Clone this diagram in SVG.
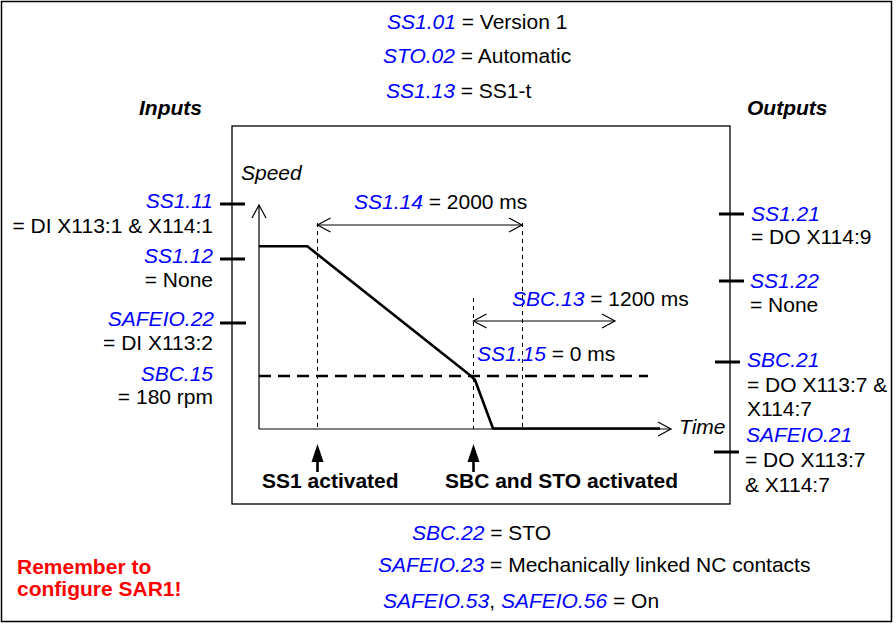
<svg xmlns="http://www.w3.org/2000/svg" width="896" height="624" viewBox="0 0 896 624">
<style>
text{font-family:"Liberation Sans",Arial,sans-serif;font-size:21px;fill:#000}
.p{fill:#0000ff;font-style:italic}
.it{font-style:italic}
.bi{font-weight:bold;font-style:italic}
.b{font-weight:bold}
.red{fill:#ff0000;font-weight:bold}
.e{text-anchor:end}
.tick{stroke:#000;stroke-width:3}
.thin{stroke:#000;stroke-width:1.2;fill:none}
.dash{stroke:#000;stroke-width:1;stroke-dasharray:4 4;fill:none}
.prof{stroke:#000;stroke-width:2.6;fill:none;stroke-linejoin:round}
</style>
<defs>
<marker id="open" viewBox="-14 -8 16 16" refX="0" refY="0" markerWidth="16" markerHeight="16" markerUnits="userSpaceOnUse" orient="auto-start-reverse">
<path d="M-13,-7 L0,0 L-13,7" fill="none" stroke="#000" stroke-width="1.2"/>
</marker>
</defs>
<rect x="1.5" y="1.5" width="890" height="620" fill="#fff" stroke="#000" stroke-width="1.5"/>
<g id="params-top">
<text x="387" y="29"><tspan class="p">SS1.01</tspan> = Version 1</text>
<text x="383" y="63"><tspan class="p">STO.02</tspan> = Automatic</text>
<text x="386" y="98"><tspan class="p">SS1.13</tspan> = SS1-t</text>
</g>
<g id="inputs">
<text x="139" y="115" class="bi">Inputs</text>
<line class="tick" x1="220" y1="204" x2="245" y2="204"/>
<text x="213" y="208" class="p e">SS1.11</text>
<text x="213" y="233" class="e">= DI X113:1 &amp; X114:1</text>
<line class="tick" x1="220" y1="259" x2="245" y2="259"/>
<text x="213" y="263" class="p e">SS1.12</text>
<text x="213" y="287" class="e">= None</text>
<line class="tick" x1="220" y1="323" x2="246" y2="323"/>
<text x="214" y="326" class="p e">SAFEIO.22</text>
<text x="213" y="350" class="e">= DI X113:2</text>
<text x="213" y="381" class="p e">SBC.15</text>
<text x="213" y="404" class="e">= 180 rpm</text>
</g>
<g id="outputs">
<text x="747" y="115" class="bi">Outputs</text>
<line class="tick" x1="719" y1="214" x2="744" y2="214"/>
<text x="751" y="221" class="p">SS1.21</text>
<text x="751" y="244">= DO X114:9</text>
<line class="tick" x1="719" y1="281" x2="744" y2="281"/>
<text x="750" y="288" class="p">SS1.22</text>
<text x="750" y="312">= None</text>
<line class="tick" x1="715" y1="362" x2="740" y2="362"/>
<text x="747" y="367" class="p">SBC.21</text>
<text x="747" y="392">= DO X113:7 &amp;</text>
<text x="747" y="416">X114:7</text>
<line class="tick" x1="714" y1="452" x2="739" y2="452"/>
<text x="746" y="442" class="p">SAFEIO.21</text>
<text x="745" y="467">= DO X113:7</text>
<text x="745" y="492">&amp; X114:7</text>
</g>
<g id="chart">
<rect x="232" y="126" width="498" height="378" fill="none" stroke="#000" stroke-width="1.3"/>
<text x="241" y="180" class="it">Speed</text>
<text x="679" y="434" class="it">Time</text>
</g>
<g id="connectors">
<line class="thin" x1="259" y1="429" x2="259" y2="205" marker-end="url(#open)"/>
<line class="thin" x1="259" y1="429" x2="671" y2="429" marker-end="url(#open)"/>
<line class="dash" x1="317.5" y1="223" x2="317.5" y2="429"/>
<line class="dash" x1="522.5" y1="223" x2="522.5" y2="429"/>
<line class="dash" x1="473.5" y1="298" x2="473.5" y2="429"/>
<line class="thin" x1="317.5" y1="225" x2="522" y2="225" marker-start="url(#open)" marker-end="url(#open)"/>
<line class="thin" x1="473.5" y1="321" x2="615" y2="321" marker-start="url(#open)" marker-end="url(#open)"/>
<line x1="259" y1="376" x2="648" y2="376" stroke="#000" stroke-width="2.6" stroke-dasharray="12 7"/>
<polyline class="prof" points="259,246.3 307.3,246.3 471,376 475,380 493,428.5 660,428.5"/>
<line x1="317.5" y1="460" x2="317.5" y2="472" stroke="#000" stroke-width="2.6"/>
<polygon points="317.5,444 311.5,462 323.5,462" fill="#000"/>
<line x1="473.5" y1="460" x2="473.5" y2="472" stroke="#000" stroke-width="2.6"/>
<polygon points="473.5,444 467.5,462 479.5,462" fill="#000"/>
</g>
<g id="labels">
<text x="354" y="209"><tspan class="p">SS1.14</tspan> = 2000 ms</text>
<text x="512" y="306"><tspan class="p">SBC.13</tspan> = 1200 ms</text>
<text x="477" y="361"><tspan class="p">SS1.15</tspan> = 0 ms</text>
<text x="262" y="488" class="b">SS1 activated</text>
<text x="445" y="488" class="b">SBC and STO activated</text>
</g>
<g id="params-bottom">
<text x="412" y="540"><tspan class="p">SBC.22</tspan> = STO</text>
<text x="378" y="572"><tspan class="p">SAFEIO.23</tspan> = Mechanically linked NC contacts</text>
<text x="383" y="608"><tspan class="p">SAFEIO.53</tspan>, <tspan class="p">SAFEIO.56</tspan> = On</text>
</g>
<g id="note">
<text x="17" y="574" class="red">Remember to</text>
<text x="17" y="596" class="red">configure SAR1!</text>
</g>
</svg>
